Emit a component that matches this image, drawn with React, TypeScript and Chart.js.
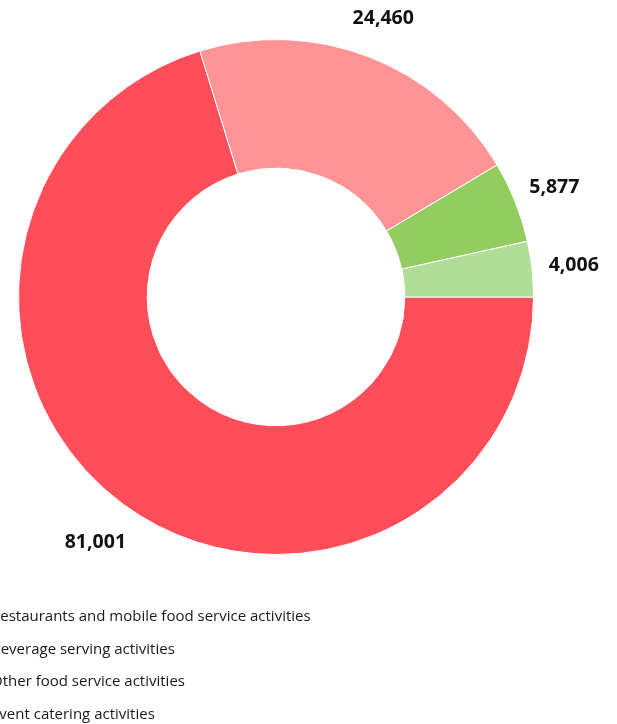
import React, { useEffect, useRef } from "react";
import { Chart, registerables } from "chart.js";

Chart.register(...registerables);

const categories = [
  "Restaurants and mobile food service activities",
  "Beverage serving activities",
  "Other food service activities",
  "Event catering activities",
];
const values = [81001, 24460, 5877, 4006];
const valueLabels = ["81,001", "24,460", "5,877", "4,006"];
const colors = ["#FF4D5A", "#FF9497", "#93CD5F", "#B1DE96"];

const labelPlugin = {
  id: "outerLabels",
  afterDatasetsDraw(chart: any) {
    const ctx = chart.ctx;
    const meta = chart.getDatasetMeta(0);
    ctx.save();
    ctx.font = "bold 19.5px 'Open Sans'";
    ctx.fillStyle = "#111";
    ctx.textAlign = "center";
    ctx.textBaseline = "middle";
    meta.data.forEach((arc: any, i: number) => {
      const mid = (arc.startAngle + arc.endAngle) / 2;
      const r = arc.outerRadius + 42 + 6 * Math.max(0, Math.sin(mid));
      const x = arc.x + Math.cos(mid) * r;
      const y = arc.y + Math.sin(mid) * r + 1;
      ctx.fillText(valueLabels[i], x, y);
    });
    ctx.restore();
  },
};

export default function App() {
  const ref = useRef<HTMLCanvasElement>(null);
  useEffect(() => {
    if (!ref.current) return;
    const chart = new Chart(ref.current, {
      type: "doughnut",
      data: {
        labels: categories,
        datasets: [
          {
            data: values,
            backgroundColor: colors,
            borderColor: "#ffffff",
            borderWidth: 1,
          },
        ],
      },
      options: {
        animation: false,
        responsive: false,
        rotation: 90,
        cutout: "50%",
        layout: { padding: { left: 18, right: 83, top: 39, bottom: 169 } },
        plugins: {
          legend: { display: false },
          tooltip: { enabled: false },
        },
      },
      plugins: [labelPlugin],
    });
    return () => chart.destroy();
  }, []);
  return (
    <div style={{ position: "absolute", left: 0, top: 0, width: 617, height: 724, overflow: "hidden", background: "#fff" }}>
      <canvas ref={ref} width={617} height={724} style={{ position: "absolute", left: 0, top: 0 }} />
      {categories.map((c, i) => (
        <div
          key={c}
          style={{
            position: "absolute",
            left: -9,
            top: 615 + i * 32.7 - 10,
            height: 20,
            lineHeight: "20px",
            fontFamily: "'Open Sans'",
            fontSize: 15,
            color: "#1a1a1a",
            whiteSpace: "nowrap",
          }}
        >
          {c}
        </div>
      ))}
    </div>
  );
}
